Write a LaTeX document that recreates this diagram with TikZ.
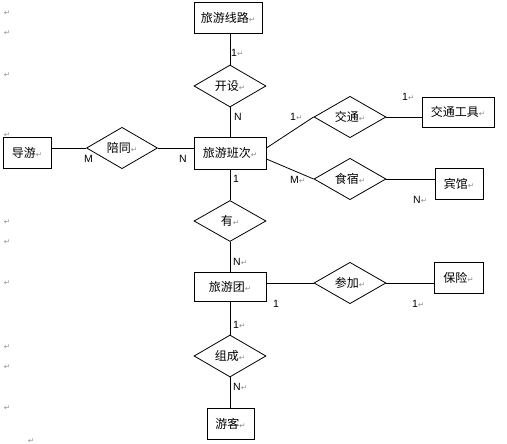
\documentclass[tikz,border=0pt]{standalone}
\usepackage{fontspec}
\setmainfont{Liberation Sans}
\newfontfamily\cjk{Noto Sans CJK SC}
\newfontfamily\symfont{DejaVu Sans}
\usetikzlibrary{shapes.geometric}
\newcommand\retmark{{\symfont\fontsize{7.5}{7.5}\selectfont\textcolor{black!45}{↵}}}
\begin{document}
\begin{tikzpicture}[x=1pt,y=-1pt,
 ent/.style={draw,fill=white,line width=0.8pt,inner sep=0,minimum height=31,font=\cjk\fontsize{12}{12}\selectfont},
 rel/.style={draw,diamond,line width=0.8pt,inner sep=0,minimum width=72,minimum height=41,font=\cjk\fontsize{12}{12}\selectfont},
 card/.style={anchor=west,inner sep=0,font=\fontsize{10.5}{10.5}\selectfont},
 lnk/.style={line width=0.8pt},
 mk/.style={inner sep=0}]
\useasboundingbox (0,0) rectangle (507,444);
% paragraph marks
\node[mk] (m1) at (7,13) {\retmark};
\node[mk] (m2) at (7,33) {\retmark};
\node[mk] (m3) at (7,75) {\retmark};
\node[mk] (m4) at (7,135) {\retmark};
\node[mk] (m5) at (7,222) {\retmark};
\node[mk] (m6) at (7,242) {\retmark};
\node[mk] (m7) at (7,283) {\retmark};
\node[mk] (m8) at (7,347) {\retmark};
\node[mk] (m9) at (7,367) {\retmark};
\node[mk] (m10) at (7,408) {\retmark};
\node[mk] (m11) at (31,441) {\retmark};
% entities
\node[ent,minimum width=68] (xl) at (228,17.5) {旅游线路\retmark};
\node[ent,minimum width=72,minimum height=32] (bc) at (230,153) {旅游班次\retmark};
\node[ent,minimum width=72,minimum height=30] (jtgj) at (458,112) {交通工具\retmark};
\node[ent,minimum width=48] (bg) at (459,183.5) {宾馆\retmark};
\node[ent,minimum width=48] (dy) at (27,152.5) {导游\retmark};
\node[ent,minimum width=72,minimum height=29] (lyt) at (230,286.5) {旅游团\retmark};
\node[ent,minimum width=49] (bx) at (458.5,277.5) {保险\retmark};
\node[ent,minimum width=47] (yk) at (230.5,423.5) {游客\retmark};
% relationships
\node[rel,minimum height=42] (ks) at (230,86) {开设\retmark};
\node[rel] (jt) at (350,117) {交通\retmark};
\node[rel] (ss) at (350,179) {食宿\retmark};
\node[rel,minimum width=71] (pt) at (122,148) {陪同\retmark};
\node[rel] (you) at (230,221) {有\retmark};
\node[rel] (cj) at (350,283) {参加\retmark};
\node[rel,minimum height=42] (zc) at (230,356) {组成\retmark};
% links
\draw[lnk] (ks.north |- xl.south) -- (ks.north);
\draw[lnk] (ks.south) -- (bc.north);
\draw[lnk] (bc.south) -- (you.north);
\draw[lnk] (you.south) -- (lyt.north);
\draw[lnk] (lyt.south) -- (zc.north);
\draw[lnk] (zc.south) -- (zc.south |- yk.north);
\draw[lnk] (dy.east |- pt.west) -- (pt.west);
\draw[lnk] (pt.east) -- (bc.west |- pt.east);
\draw[lnk] ([yshift=5pt]bc.east) -- (jt.west);
\draw[lnk] ([yshift=-6pt]bc.east) -- (ss.west);
\draw[lnk] (jt.east) -- (jtgj.west |- jt.east);
\draw[lnk] (ss.east) -- (bg.west |- ss.east);
\draw[lnk] (lyt.east |- cj.west) -- (cj.west);
\draw[lnk] (cj.east) -- (bx.west |- cj.east);
% cardinalities
\node[card] (c1) at (231,53) {1\retmark};
\node[card] (c2) at (234,117) {N};
\node[card] (c3) at (290,117) {1\retmark};
\node[card] (c4) at (402,97) {1\retmark};
\node[card] (c5) at (290,180) {M\retmark};
\node[card] (c6) at (413,200) {N\retmark};
\node[card] (c7) at (84,159) {M};
\node[card] (c8) at (179,159) {N};
\node[card] (c9) at (233,179) {1};
\node[card] (c10) at (233,262) {N\retmark};
\node[card] (c11) at (273,304) {1};
\node[card] (c12) at (412,304) {1\retmark};
\node[card] (c13) at (233,325) {1\retmark};
\node[card] (c14) at (233,387) {N\retmark};
\end{tikzpicture}
\end{document}
